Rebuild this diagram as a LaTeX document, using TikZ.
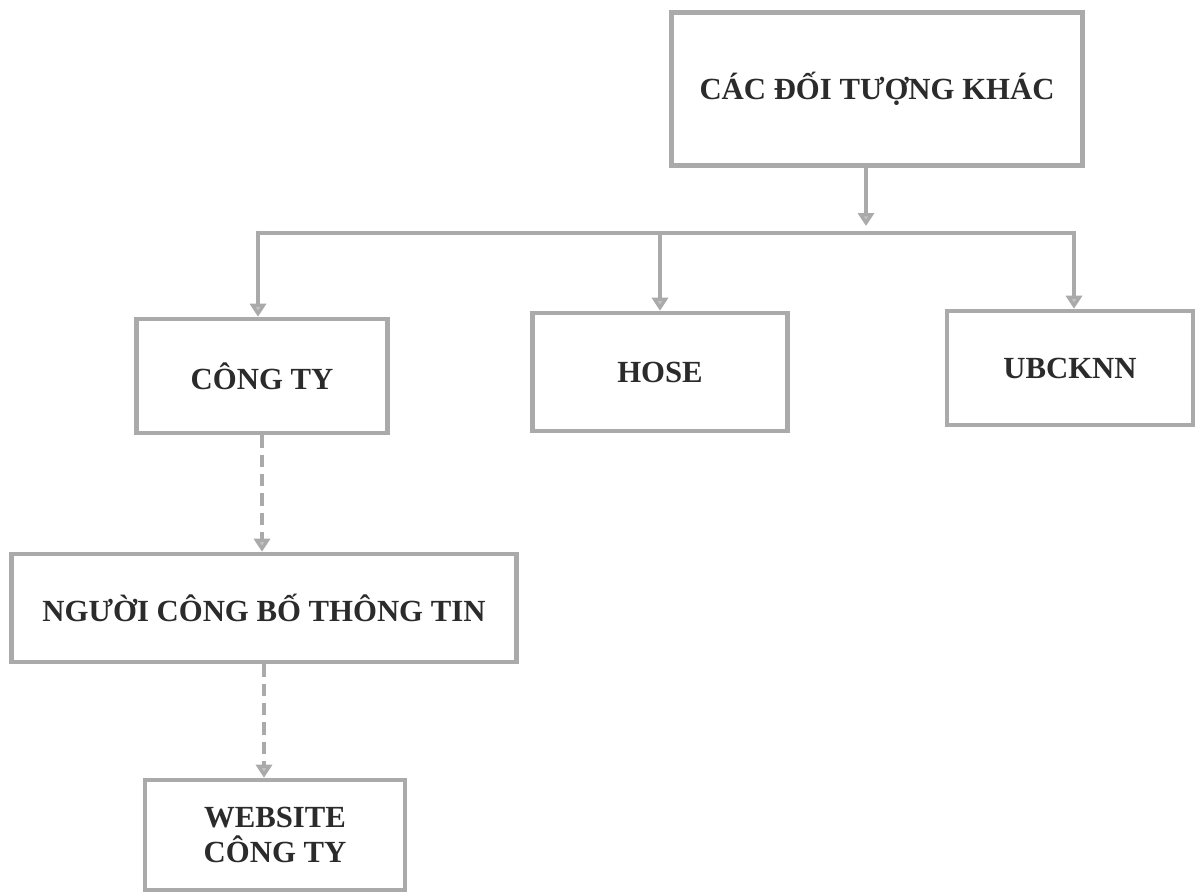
\documentclass[tikz,border=0pt]{standalone}
\usepackage{fontspec}
\setmainfont{Liberation Serif}
\usetikzlibrary{arrows.meta}
\definecolor{linegray}{HTML}{AAAAAA}
\definecolor{txt}{HTML}{2B2B2B}
\tikzset{
  box/.style={draw=linegray, line width=2.6pt, fill=white, text=txt,
    font=\bfseries\fontsize{17.5}{22}\selectfont, align=center,
    inner sep=0pt},
  conn/.style={draw=linegray, line width=2.3pt},
  tip/.style={-{Triangle[width=0.32cm,length=0.26cm,fill=linegray!70,color=linegray]}},
  dconn/.style={conn, dash pattern=on 7pt off 4pt},
}
\begin{document}
\begin{tikzpicture}[x=0.02cm,y=-0.02cm]
\fill[white] (0,0) rectangle (1197,894);
\useasboundingbox (0,0) rectangle (1197,894);

\node[box, minimum width=8.22cm, minimum height=3.06cm] (top) at (877,89) {CÁC ĐỐI TƯỢNG KHÁC};
\node[box, minimum width=5.02cm, minimum height=2.28cm] (cong) at (262,376) {CÔNG TY};
\node[box, minimum width=5.1cm, minimum height=2.36cm] (hose) at (660,372) {HOSE};
\node[box, minimum width=4.92cm, minimum height=2.28cm] (ubck) at (1070,368) {UBCKNN};
\node[box, minimum width=10.1cm, minimum height=2.16cm] (nguoi) at (264,608) {NGƯỜI CÔNG BỐ THÔNG TIN};
\node[box, minimum width=5.2cm, minimum height=2.2cm] (web) at (275,835) {WEBSITE\\[-2pt]CÔNG TY};

\coordinate (j) at (866,226);
\coordinate (bl) at (258,233);
\coordinate (br) at (1074,233);

\draw[conn, tip] (top.south -| j) -- (j);
\draw[conn] (bl) -- (br);
\draw[conn, tip] ([yshift=1.15pt]bl) -- (cong.north -| bl);
\draw[conn, tip] (hose.north |- bl) -- (hose.north);
\draw[conn, tip] ([yshift=1.15pt]br) -- (ubck.north -| br);
\draw[dconn, tip] (cong.south) -- (nguoi.north -| cong.south);
\draw[dconn, tip] (nguoi.south) -- (web.north -| nguoi.south);
\end{tikzpicture}
\end{document}
